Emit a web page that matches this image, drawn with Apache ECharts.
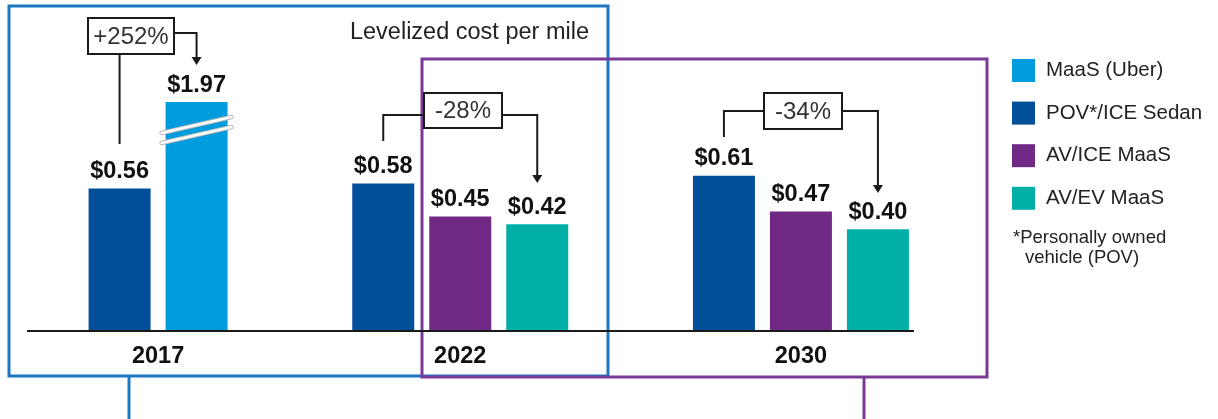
<!DOCTYPE html>
<html><head><meta charset="utf-8">
<script src="https://cdn.jsdelivr.net/npm/echarts@6/dist/echarts.min.js"></script>
<style>html,body{margin:0;padding:0;background:#fff}#c{width:1218px;height:419px}</style>
</head><body><div id="c"></div>
<script>
// ---- data ----
const years = ['2017', '2022', '2030'];
const seriesNames = ['MaaS (Uber)', 'POV*/ICE Sedan', 'AV/ICE MaaS', 'AV/EV MaaS'];
const maasUber    = [1.97, null, null];
const povIceSedan = [0.56, 0.58, 0.61];
const avIceMaas   = [null, 0.45, 0.47];
const avEvMaas    = [null, 0.42, 0.40];
const changeLabels = ['+252%', '-28%', '-34%'];
const chartTitle = 'Levelized cost per mile';
const footnoteLines = ['*Personally owned', 'vehicle (POV)'];

// ---- styles ----
const FONT = "'Liberation Sans', Arial, sans-serif";
const colors = {
  'MaaS (Uber)': '#009CDD',
  'POV*/ICE Sedan': '#004F98',
  'AV/ICE MaaS': '#702A86',
  'AV/EV MaaS': '#00AFA6'
};
const valuesByName = {
  'MaaS (Uber)': maasUber,
  'POV*/ICE Sedan': povIceSedan,
  'AV/ICE MaaS': avIceMaas,
  'AV/EV MaaS': avEvMaas
};
// order of bars inside a year group
const drawOrder = ['POV*/ICE Sedan', 'MaaS (Uber)', 'AV/ICE MaaS', 'AV/EV MaaS'];
const SLOTS = 3;
const BAR_W = 62;
const BAR_GAP = 0.2419;

// build slot series (bars right-aligned into 3 slots per year)
const slotData = [];
for (let s = 0; s < SLOTS; s++) slotData.push(years.map(() => null));
const occupied = []; // per year: [{slot, name, value}]
years.forEach((y, yi) => {
  const items = drawOrder
    .filter(n => valuesByName[n][yi] != null)
    .map(n => ({ name: n, value: valuesByName[n][yi] }));
  const off = SLOTS - items.length;
  occupied[yi] = [];
  items.forEach((it, k) => {
    slotData[off + k][yi] = { value: it.value, itemStyle: { color: colors[it.name] } };
    occupied[yi].push({ slot: off + k, name: it.name, value: it.value });
  });
});

const chart = echarts.init(document.getElementById('c'), null, { renderer: 'canvas' });

const barSeries = slotData.map((d, s) => ({
  type: 'bar',
  name: 'slot' + s,
  data: d,
  barWidth: BAR_W,
  barGap: (BAR_GAP * 100).toFixed(2) + '%',
  silent: true,
  z: 3,
  label: {
    show: true, position: 'top', distance: 5,
    formatter: p => '$' + Number(p.value).toFixed(2),
    fontSize: 23.5, fontWeight: 'bold', color: '#111', fontFamily: FONT
  }
}));
const legendSeries = seriesNames.map(n => ({
  type: 'scatter', name: n, data: [], itemStyle: { color: colors[n], opacity: 1 }
}));

chart.setOption({
  animation: false,
  backgroundColor: '#fff',
  grid: { left: -50.75, right: 246.75, top: 69, bottom: 88, containLabel: false, outerBoundsMode: 'none' },
  xAxis: {
    type: 'category', data: years,
    axisLine: { show: false }, axisTick: { show: false }, axisLabel: { show: false }
  },
  yAxis: {
    type: 'value', min: 0, max: 2.1,
    breaks: [{ start: 0.79, end: 1.86, gap: 0 }],
    breakArea: { show: false, expandOnClick: false },
    axisLine: { show: false }, axisTick: { show: false }, axisLabel: { show: false },
    splitLine: { show: false }
  },
  legend: {
    data: seriesNames.map(n => ({ name: n, itemStyle: { color: colors[n], opacity: 1 } })),
    orient: 'vertical', left: 1007, top: 54,
    icon: 'rect', itemWidth: 23, itemHeight: 23, itemGap: 19.6,
    selectedMode: false,
    textStyle: { fontSize: 20.5, color: '#222', fontFamily: FONT, padding: [0, 0, 0, 6] }
  },
  series: barSeries.concat(legendSeries)
});

// ---- annotations computed from the axes ----
const pitch = BAR_W * (1 + BAR_GAP);
const catX = i => chart.convertToPixel({ xAxisIndex: 0 }, i);
const yPix = v => chart.convertToPixel({ yAxisIndex: 0 }, v);
const slotX = (yi, s) => catX(yi) + (s - (SLOTS - 1) / 2) * pitch;
const y0 = yPix(0);

const BLUE = '#1C76C2', PURPLE = '#7B3A95', INK = '#1a1a1a';
const g = [];
// frames
g.push({ type: 'rect', z: 1, shape: { x: 9, y: 6, width: 599, height: 370 }, style: { fill: null, stroke: BLUE, lineWidth: 3 } });
g.push({ type: 'line', z: 1, shape: { x1: 129, y1: 376, x2: 129, y2: 419 }, style: { stroke: BLUE, lineWidth: 3 } });
g.push({ type: 'rect', z: 1, shape: { x: 422, y: 59, width: 565, height: 318 }, style: { fill: null, stroke: PURPLE, lineWidth: 3 } });
g.push({ type: 'line', z: 1, shape: { x1: 864, y1: 377, x2: 864, y2: 419 }, style: { stroke: PURPLE, lineWidth: 3 } });
// baseline
g.push({ type: 'line', z: 5, shape: { x1: 27, y1: y0, x2: 914, y2: y0 }, style: { stroke: INK, lineWidth: 2 } });
// title
g.push({ type: 'text', z: 5, x: 589, y: 33, style: { text: chartTitle, align: 'right', verticalAlign: 'middle', font: '23.5px ' + FONT, fill: '#222' } });
// year labels at centre of occupied bars
years.forEach((y, yi) => {
  const xs = occupied[yi].map(o => slotX(yi, o.slot));
  const cx = (Math.min(...xs) + Math.max(...xs)) / 2;
  g.push({ type: 'text', z: 5, x: cx, y: y0 + 26, style: { text: y, align: 'center', verticalAlign: 'middle', font: 'bold 23.5px ' + FONT, fill: '#111' } });
});
// break marks on the MaaS bar
occupied.forEach((occ, yi) => occ.forEach(o => {
  if (o.value > 0.79 + 0.2) {
    const cx = slotX(yi, o.slot), cy = yPix(0.79);
    [-5, 5].forEach(d => {
      const shape = { x1: cx - 35, y1: cy + d + 8, x2: cx + 35, y2: cy + d - 8 };
      g.push({ type: 'line', z: 6, shape, style: { stroke: '#b8b8b8', lineWidth: 4.5, lineCap: 'round' } });
      g.push({ type: 'line', z: 7, shape, style: { stroke: '#fff', lineWidth: 2.5, lineCap: 'round' } });
    });
  }
}));
// change brackets
const boxes = [
  { x: 88, y: 18, w: 86, h: 36, lineY: 33, stemFromBottom: true, stemEnd: 144, tipY: 65 },
  { x: 424, y: 93, w: 78, h: 35, lineY: 115, stemFromBottom: false, stemEnd: 141, tipY: 183 },
  { x: 764, y: 93, w: 78, h: 36, lineY: 111, stemFromBottom: false, stemEnd: 137, tipY: 193 }
];
boxes.forEach((b, yi) => {
  const occ = occupied[yi];
  const xa = slotX(yi, occ[0].slot);
  const xb = slotX(yi, occ[occ.length - 1].slot);
  const lineStyle = { stroke: INK, lineWidth: 2, fill: null };
  if (b.stemFromBottom) {
    g.push({ type: 'polyline', z: 8, shape: { points: [[xa, b.y + b.h], [xa, b.stemEnd]] }, style: lineStyle });
  } else {
    g.push({ type: 'polyline', z: 8, shape: { points: [[b.x, b.lineY], [xa, b.lineY], [xa, b.stemEnd]] }, style: lineStyle });
  }
  g.push({ type: 'polyline', z: 8, shape: { points: [[b.x + b.w, b.lineY], [xb, b.lineY], [xb, b.tipY - 7]] }, style: lineStyle });
  g.push({ type: 'polygon', z: 8, shape: { points: [[xb - 5, b.tipY - 8], [xb + 5, b.tipY - 8], [xb, b.tipY]] }, style: { fill: INK } });
  g.push({ type: 'rect', z: 9, shape: { x: b.x, y: b.y, width: b.w, height: b.h }, style: { fill: '#fff', stroke: INK, lineWidth: 2 } });
  g.push({ type: 'text', z: 10, x: b.x + b.w / 2, y: b.y + b.h / 2 + 1, style: { text: changeLabels[yi], align: 'center', verticalAlign: 'middle', font: '24px ' + FONT, fill: '#333' } });
});
// footnote
g.push({ type: 'text', z: 5, x: 1013, y: 238, style: { text: footnoteLines[0], verticalAlign: 'middle', font: '18.5px ' + FONT, fill: '#222' } });
g.push({ type: 'text', z: 5, x: 1025, y: 258, style: { text: footnoteLines[1], verticalAlign: 'middle', font: '18.5px ' + FONT, fill: '#222' } });

chart.setOption({ graphic: { elements: g } });
</script>
</body></html>
